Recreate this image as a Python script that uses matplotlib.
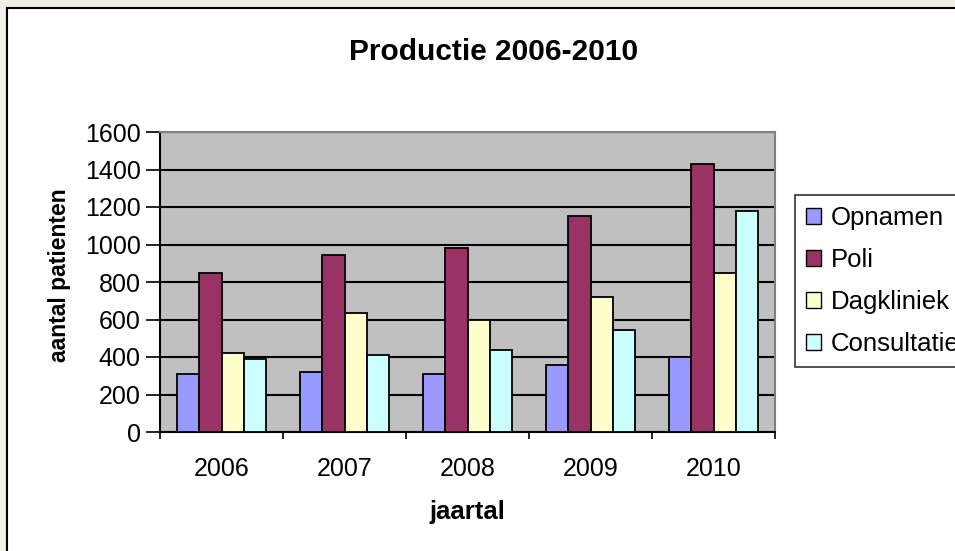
import numpy as np
import matplotlib
matplotlib.use('Agg')
import matplotlib.pyplot as plt
from matplotlib.patches import Rectangle

plt.rcParams['font.family'] = ['Liberation Sans', 'DejaVu Sans']

years = ['2006', '2007', '2008', '2009', '2010']
opnamen = [310, 320, 310, 355, 400]
poli = [850, 945, 980, 1150, 1430]
dagkliniek = [420, 635, 595, 720, 850]
consultatie = [390, 410, 440, 545, 1180]

series = [('Opnamen', opnamen, '#9999ff'),
          ('Poli', poli, '#993366'),
          ('Dagkliniek', dagkliniek, '#ffffcc'),
          ('Consultatie', consultatie, '#ccffff')]

W, H = 955, 551
fig = plt.figure(figsize=(W / 100, H / 100), dpi=100)
fig.patch.set_facecolor('#f2efe6')

# white chart area with black border (runs off the right and bottom edge)
fig.patches.append(Rectangle((7 / W, -0.05), 1.1, 1 - 8 / H + 0.05,
                             transform=fig.transFigure, facecolor='white',
                             edgecolor='black', linewidth=1.5, zorder=-5))

ax = fig.add_axes([160 / W, (H - 432) / H, (775 - 160) / W, 300 / H])
ax.set_facecolor('#c0c0c0')

x = np.arange(len(years))
bw = 0.179
for i, (name, vals, col) in enumerate(series):
    ax.bar(x + (i - 1.5) * bw, vals, bw, color=col, edgecolor='black',
           linewidth=1.3, label=name, zorder=3)

ax.set_xlim(-0.5, len(years) - 0.5)
ax.set_ylim(0, 1600)
ax.set_yticks(np.arange(0, 1601, 200))
ax.yaxis.grid(True, color='black', linewidth=1.5, zorder=1)
ax.set_axisbelow(True)

ax.set_xticks(x)
ax.set_xticklabels(years)
ax.set_xticks(np.arange(-0.5, len(years)), minor=True)
ax.tick_params(axis='x', which='major', length=0, pad=18, labelsize=18)
ax.tick_params(axis='x', which='minor', length=5, width=1.2, direction='out')
ax.tick_params(axis='y', length=10, width=1.2, direction='out', labelsize=18, pad=4)

for s in ['top', 'right']:
    ax.spines[s].set_color('#808080')
    ax.spines[s].set_linewidth(1.5)
for s in ['left', 'bottom']:
    ax.spines[s].set_color('black')
    ax.spines[s].set_linewidth(1.5)

ax.set_xlabel('jaartal', fontsize=18.5, fontweight='bold', labelpad=14)
ax.set_ylabel('aantal patienten', fontsize=16.5, fontweight='bold')
ax.yaxis.set_label_coords(-0.145, 0.523)

fig.text(494 / W, 1 - 60 / H, 'Productie 2006-2010', ha='center', va='baseline',
         fontsize=21.5, fontweight='bold')

leg = ax.legend(loc='upper left', bbox_to_anchor=(795 / W, 1 - 195 / H),
                bbox_transform=fig.transFigure, frameon=True, fancybox=False,
                fontsize=18.5, handlelength=0.6, handleheight=0.6,
                handletextpad=0.36, labelspacing=0.7, borderpad=0.42,
                borderaxespad=0)
leg.get_frame().set_edgecolor('black')
leg.get_frame().set_linewidth(1.2)
for h in leg.legend_handles:
    h.set_linewidth(1.0)

fig.savefig('out.png', dpi=100, facecolor=fig.get_facecolor())
